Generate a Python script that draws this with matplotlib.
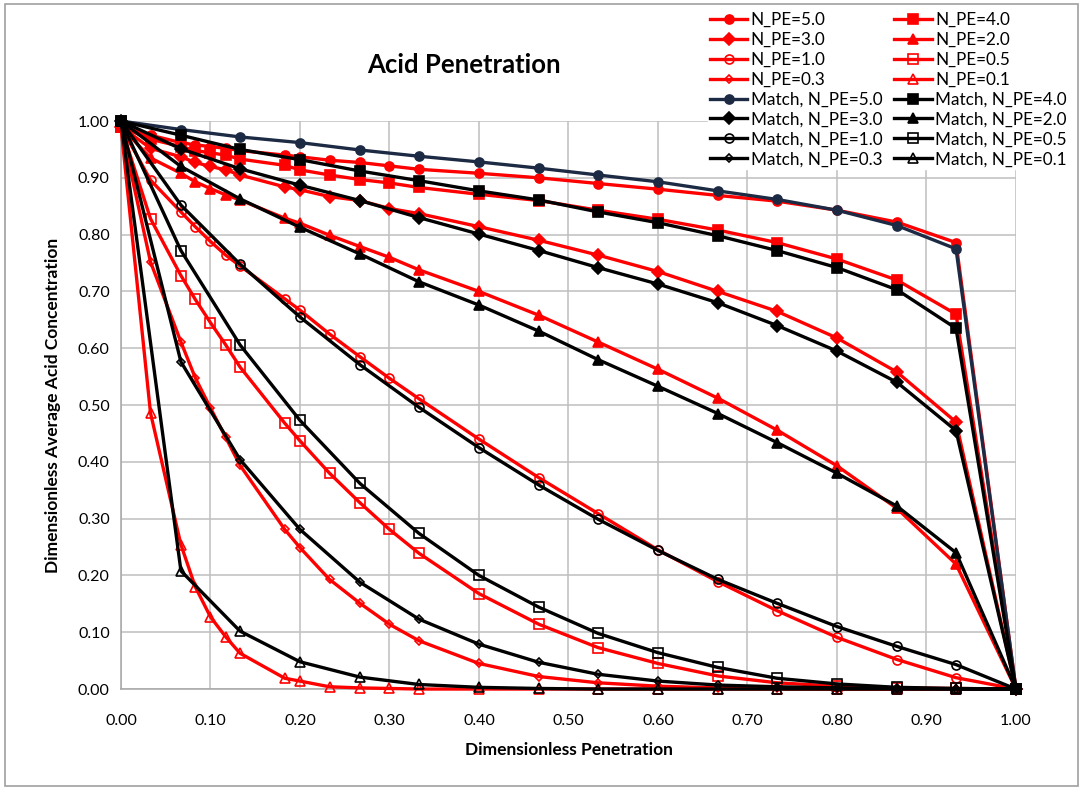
import matplotlib
matplotlib.use("Agg")
import matplotlib.pyplot as plt
from matplotlib.patches import Rectangle

plt.rcParams['font.family'] = ['Lato', 'DejaVu Sans']

# positions along the fracture (model output is denser near the inlet)
x_model = [0.000, 0.033, 0.067, 0.083, 0.100, 0.117, 0.133, 0.183, 0.200, 0.233, 0.267, 0.300,
           0.333, 0.400, 0.467, 0.533, 0.600, 0.667, 0.733, 0.800, 0.867, 0.933, 1.000]
x_match = [0.000, 0.067, 0.133, 0.200, 0.267, 0.333, 0.400, 0.467, 0.533, 0.600, 0.667, 0.733,
           0.800, 0.867, 0.933, 1.000]

# model curves, one per Peclet number
c_pe50 = [0.99, 0.975, 0.962, 0.958, 0.955, 0.952, 0.948, 0.940, 0.937, 0.931, 0.927, 0.921,
          0.915, 0.908, 0.900, 0.890, 0.880, 0.869, 0.859, 0.843, 0.822, 0.786, 0.0]
c_pe40 = [0.99, 0.968, 0.955, 0.948, 0.944, 0.940, 0.933, 0.922, 0.914, 0.905, 0.897, 0.891,
          0.883, 0.871, 0.860, 0.843, 0.827, 0.808, 0.786, 0.757, 0.720, 0.660, 0.0]
c_pe30 = [0.99, 0.952, 0.937, 0.927, 0.920, 0.914, 0.905, 0.884, 0.879, 0.867, 0.860, 0.846,
          0.837, 0.814, 0.790, 0.764, 0.735, 0.700, 0.665, 0.618, 0.558, 0.470, 0.0]
c_pe20 = [0.99, 0.935, 0.908, 0.893, 0.881, 0.870, 0.861, 0.829, 0.820, 0.799, 0.779, 0.760,
          0.738, 0.700, 0.658, 0.611, 0.563, 0.512, 0.456, 0.393, 0.318, 0.220, 0.0]
c_pe10 = [0.99, 0.896, 0.840, 0.814, 0.788, 0.764, 0.745, 0.687, 0.667, 0.625, 0.585, 0.547,
          0.511, 0.440, 0.372, 0.309, 0.245, 0.189, 0.138, 0.091, 0.052, 0.020, 0.0]
c_pe05 = [0.99, 0.828, 0.728, 0.686, 0.645, 0.606, 0.567, 0.468, 0.437, 0.380, 0.328, 0.281,
          0.239, 0.168, 0.114, 0.073, 0.045, 0.023, 0.011, 0.005, 0.002, 0.001, 0.0]
c_pe03 = [0.99, 0.752, 0.611, 0.548, 0.495, 0.443, 0.394, 0.281, 0.249, 0.193, 0.151, 0.114,
          0.085, 0.045, 0.022, 0.011, 0.005, 0.002, 0.001, 0.0, 0.0, 0.0, 0.0]
c_pe01 = [0.99, 0.486, 0.254, 0.180, 0.127, 0.092, 0.063, 0.019, 0.014, 0.004, 0.002, 0.001,
          0.0, 0.0, 0.0, 0.0, 0.0, 0.0, 0.0, 0.0, 0.0, 0.0, 0.0]

# matched curves
m_pe50 = [1.00, 0.985, 0.972, 0.962, 0.949, 0.938, 0.928, 0.917, 0.905, 0.893, 0.877, 0.862,
          0.843, 0.816, 0.775, 0.0]
m_pe40 = [1.00, 0.975, 0.950, 0.932, 0.912, 0.895, 0.877, 0.861, 0.840, 0.821, 0.798, 0.772,
          0.742, 0.703, 0.635, 0.0]
m_pe30 = [1.00, 0.951, 0.916, 0.887, 0.860, 0.830, 0.801, 0.772, 0.742, 0.713, 0.680, 0.640,
          0.595, 0.540, 0.455, 0.0]
m_pe20 = [1.00, 0.920, 0.863, 0.813, 0.766, 0.717, 0.676, 0.630, 0.580, 0.533, 0.485, 0.434,
          0.380, 0.322, 0.240, 0.0]
m_pe10 = [1.00, 0.852, 0.748, 0.655, 0.571, 0.496, 0.425, 0.359, 0.299, 0.244, 0.193, 0.151,
          0.110, 0.075, 0.043, 0.0]
m_pe05 = [1.00, 0.772, 0.606, 0.473, 0.362, 0.274, 0.200, 0.144, 0.098, 0.064, 0.038, 0.019,
          0.009, 0.003, 0.001, 0.0]
m_pe03 = [1.00, 0.576, 0.404, 0.281, 0.188, 0.123, 0.079, 0.047, 0.026, 0.014, 0.007, 0.004,
          0.002, 0.001, 0.0, 0.0]
m_pe01 = [1.00, 0.208, 0.102, 0.048, 0.021, 0.008, 0.003, 0.001, 0.0, 0.0, 0.0, 0.0,
          0.0, 0.0, 0.0, 0.0]

pe_labels = ["5.0", "4.0", "3.0", "2.0", "1.0", "0.5", "0.3", "0.1"]
model_sets = [c_pe50, c_pe40, c_pe30, c_pe20, c_pe10, c_pe05, c_pe03, c_pe01]
match_sets = [m_pe50, m_pe40, m_pe30, m_pe20, m_pe10, m_pe05, m_pe03, m_pe01]

# marker style per Peclet number: (marker, size, filled)
styles = [("o", 6.5, True), ("s", 6.5, True), ("D", 6.5, True), ("^", 7, True),
          ("o", 6.5, False), ("s", 6.5, False), ("D", 4, False), ("^", 6.5, False)]

fig = plt.figure(figsize=(10.83, 7.90), dpi=100)
ax = fig.add_axes([0.1117, 0.1278, 0.8264, 0.7190])

handles = {}
for lab, ys, (mk, ms, filled) in zip(pe_labels, model_sets, styles):
    h, = ax.plot(x_model, ys, color="#ff0000", lw=2.4, marker=mk, ms=ms,
                 mfc="#ff0000" if filled else "none", mec="#ff0000", mew=1.2,
                 clip_on=False, zorder=3, label="N_PE=" + lab)
    handles["r" + lab] = h
for i, (lab, ys, (mk, ms, filled)) in enumerate(zip(pe_labels, match_sets, styles)):
    col = "#1d2a44" if i == 0 else "#000000"
    h, = ax.plot(x_match, ys, color=col, lw=2.4, marker=mk, ms=ms,
                 mfc=col if filled else "none", mec=col, mew=1.2,
                 clip_on=False, zorder=4, label="Match, N_PE=" + lab)
    handles["m" + lab] = h

ax.set_xlim(0, 1)
ax.set_ylim(0, 1)
ticks = [0.0, 0.1, 0.2, 0.3, 0.4, 0.5, 0.6, 0.7, 0.8, 0.9, 1.0]
ax.set_xticks(ticks)
ax.set_yticks(ticks)
ax.set_xticklabels(["%.2f" % t for t in ticks])
ax.set_yticklabels(["%.2f" % t for t in ticks])
ax.tick_params(axis="both", labelsize=11.5, length=0)
ax.tick_params(axis="x", pad=18)
ax.tick_params(axis="y", pad=8)
ax.grid(True, color="#bfbfbf", lw=1.1, zorder=0)
ax.set_axisbelow(True)
for s in ["top", "right"]:
    ax.spines[s].set_visible(False)
for s in ["left", "bottom"]:
    ax.spines[s].set_color("#a6a6a6")
    ax.spines[s].set_linewidth(1.1)

ax.set_xlabel("Dimensionless Penetration", fontsize=12.5, fontweight="bold", labelpad=10)
ax.set_ylabel("Dimensionless Average Acid Concentration", fontsize=12.5, fontweight="bold",
              labelpad=12)
fig.text(0.428, 0.918, "Acid Penetration", fontsize=18.5, fontweight="bold",
         ha="center", va="center")

# legend laid out row by row: left column 5,3,1,0.3 ; right column 4,2,0.5,0.1
col1 = ["r5.0", "r3.0", "r1.0", "r0.3", "m5.0", "m3.0", "m1.0", "m0.3"]
col2 = ["r4.0", "r2.0", "r0.5", "r0.1", "m4.0", "m2.0", "m0.5", "m0.1"]
order = [handles[k] for k in col1 + col2]
leg = fig.legend(handles=order, labels=[h.get_label() for h in order], ncol=2,
                 loc="upper left", bbox_to_anchor=(0.646, 0.998), fontsize=12.3,
                 frameon=True, facecolor="white", edgecolor="white", framealpha=1,
                 handlelength=2.2, handletextpad=0.2, columnspacing=0.7,
                 labelspacing=0.23, borderpad=0.1)

# chart border
fig.add_artist(Rectangle((0.005, 0.005), 0.990, 0.990, transform=fig.transFigure,
                         fill=False, edgecolor="#a0a0a0", lw=1.2))

fig.savefig("out.png", dpi=100)
